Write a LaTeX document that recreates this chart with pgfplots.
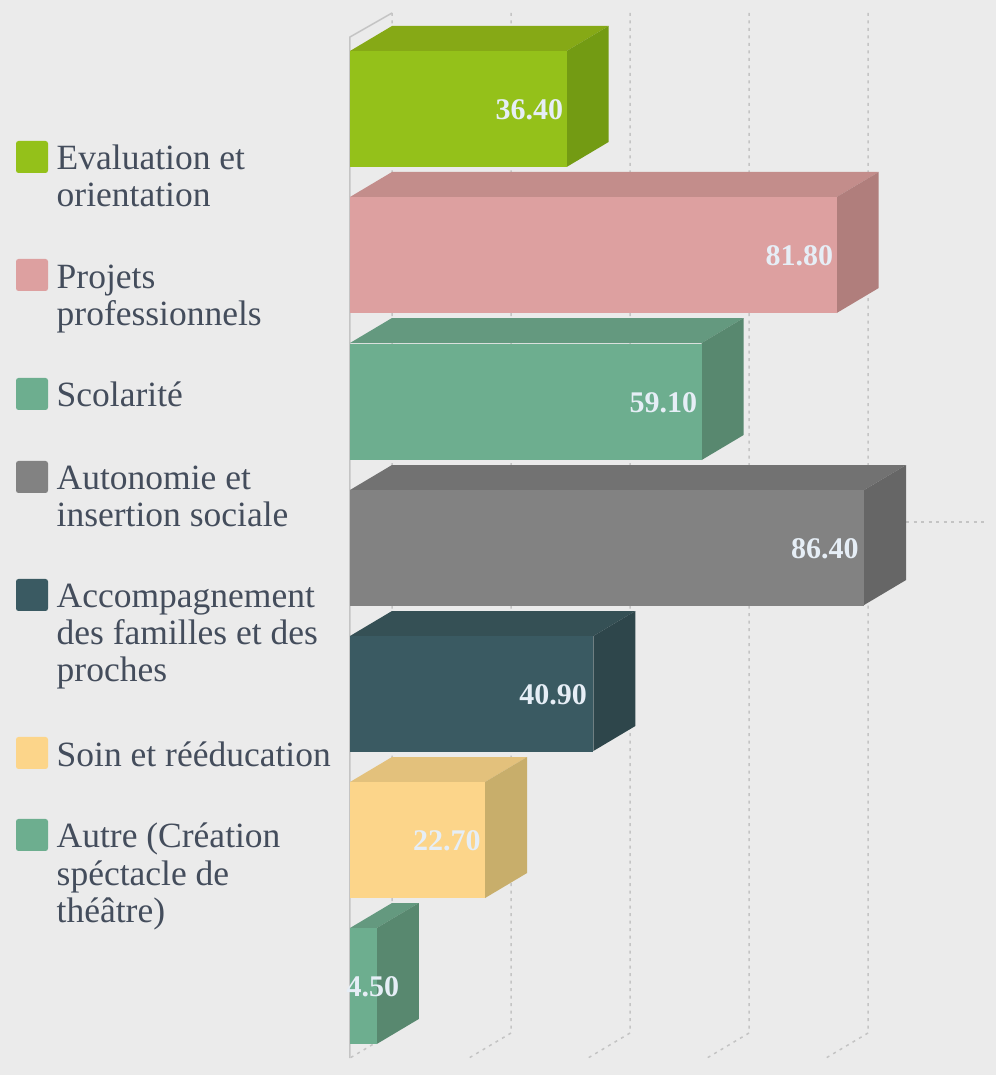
\documentclass[border=0pt]{standalone}
\usepackage{pgfplots}
\pgfplotsset{compat=1.18}
\usepackage{fontspec}
\setmainfont{Liberation Serif}
\definecolor{bg}{HTML}{EBEBEB}
\definecolor{gridc}{HTML}{C4C4C4}
\definecolor{txt}{HTML}{444D5C}
\definecolor{lab}{HTML}{E6EEF6}
\definecolor{ga}{HTML}{94C11A}\definecolor{gb}{HTML}{86A916}\definecolor{gc}{HTML}{739B13}
\definecolor{pa}{HTML}{DDA0A0}\definecolor{pb}{HTML}{C38D8B}\definecolor{pc}{HTML}{B07E7C}
\definecolor{ta}{HTML}{6DAE8F}\definecolor{tb}{HTML}{64997F}\definecolor{tc}{HTML}{58886F}
\definecolor{ka}{HTML}{828282}\definecolor{kb}{HTML}{727272}\definecolor{kc}{HTML}{666666}
\definecolor{da}{HTML}{3A5A62}\definecolor{db}{HTML}{355055}\definecolor{dc}{HTML}{2E464B}
\definecolor{ya}{HTML}{FCD58A}\definecolor{yb}{HTML}{E3C17C}\definecolor{yc}{HTML}{C8AE6B}
\pgfplotsset{
  frontbar/.style={xbar, bar width=116pt, bar shift=0pt, draw=none, fill=#1,
    nodes near coords, point meta=x,
    nodes near coords style={anchor=east, xshift=0pt, yshift=-1pt, text=lab,
      font=\fontsize{30}{30}\selectfont\bfseries,
      /pgf/number format/fixed, /pgf/number format/fixed zerofill,
      /pgf/number format/precision=2, /pgf/number format/assume math mode=true}},
  face/.style={fill=#1, draw=none},
  griddot/.style={gridc, line width=1.5pt, dash pattern=on 3pt off 4.5pt},
}
\begin{document}
\begin{tikzpicture}
\begin{axis}[
  scale only axis, width=996pt, height=1075pt,
  xmin=-58.82, xmax=108.57, ymin=0, ymax=1075, y dir=reverse,
  axis lines=none, ticks=none, clip=true,
]
\fill[bg] (rel axis cs:0,0) rectangle (rel axis cs:1,1);
% wall and floor grid lines
\addplot[griddot] coordinates {(7.06,13) (7.06,1033) (0,1058)};
\addplot[griddot] coordinates {(27.06,13) (27.06,1033) (20,1058)};
\addplot[griddot] coordinates {(47.06,13) (47.06,1033) (40,1058)};
\addplot[griddot] coordinates {(67.06,13) (67.06,1033) (60,1058)};
\addplot[griddot] coordinates {(87.06,13) (87.06,1033) (80,1058)};
\addplot[griddot] coordinates {(93.46,522) (106.5,522)};
\addplot[gridc, line width=1.5pt] coordinates {(7.06,13) (0,37) (0,1058)};
% Evaluation et orientation
\addplot[face=gb] coordinates {(0,51) (7.06,26) (43.46,26) (36.4,51)} -- cycle;
\addplot[face=gc] coordinates {(36.4,51) (43.46,26) (43.46,142) (36.4,167)} -- cycle;
\addplot[frontbar=ga] coordinates {(36.4,109)};
% Projets professionnels
\addplot[face=pb] coordinates {(0,197) (7.06,172) (88.86,172) (81.8,197)} -- cycle;
\addplot[face=pc] coordinates {(81.8,197) (88.86,172) (88.86,288) (81.8,313)} -- cycle;
\addplot[frontbar=pa] coordinates {(81.8,255)};
% Scolarite
\addplot[face=tb] coordinates {(0,343) (7.06,318) (66.16,318) (59.1,343)} -- cycle;
\addplot[face=tc] coordinates {(59.1,343) (66.16,318) (66.16,435) (59.1,460)} -- cycle;
\addplot[frontbar=ta, nodes near coords style={xshift=-1pt}] coordinates {(59.1,401.5)};
% Autonomie
\addplot[face=kb] coordinates {(0,490) (7.06,465) (93.46,465) (86.4,490)} -- cycle;
\addplot[face=kc] coordinates {(86.4,490) (93.46,465) (93.46,580) (86.4,605)} -- cycle;
\addplot[frontbar=ka, nodes near coords style={xshift=-2pt}] coordinates {(86.4,547.5)};
% Accompagnement
\addplot[face=db] coordinates {(0,636) (7.06,611) (47.96,611) (40.9,636)} -- cycle;
\addplot[face=dc] coordinates {(40.9,636) (47.96,611) (47.96,726) (40.9,751)} -- cycle;
\addplot[frontbar=da, nodes near coords style={xshift=-3pt}] coordinates {(40.9,693.5)};
% Soin
\addplot[face=yb] coordinates {(0,782) (7.06,757) (29.76,757) (22.7,782)} -- cycle;
\addplot[face=yc] coordinates {(22.7,782) (29.76,757) (29.76,873) (22.7,898)} -- cycle;
\addplot[frontbar=ya, nodes near coords style={xshift=-1pt}] coordinates {(22.7,840)};
% Autre
\addplot[face=tb] coordinates {(0,928) (7.06,903) (11.56,903) (4.5,928)} -- cycle;
\addplot[face=tc] coordinates {(4.5,928) (11.56,903) (11.56,1019) (4.5,1044)} -- cycle;
\addplot[frontbar=ta, nodes near coords style={xshift=26pt}] coordinates {(4.5,986)};
\end{axis}
\begin{scope}[x=1pt, y=-1pt, yshift=1075pt]
\foreach \y/\c in {141/ga,259/pa,378/ta,461/ka,579/da,737/ya,819/ta}
  \fill[\c, rounded corners=2.5pt] (16,\y) rectangle (48,\y+32);
\tikzset{leg/.style={anchor=base west, inner sep=0pt, text=txt,
  font=\fontsize{35.5}{35.5}\selectfont}}
\node[leg] at (56.5,169.5) {Evaluation et};
\node[leg] at (56.5,206.5) {orientation};
\node[leg] at (56.5,288.5) {Projets};
\node[leg] at (56.5,325.5) {professionnels};
\node[leg] at (56.5,406.5) {Scolarité};
\node[leg] at (56.5,489.5) {Autonomie et};
\node[leg] at (56.5,526.5) {insertion sociale};
\node[leg] at (56.5,607.5) {Accompagnement};
\node[leg] at (56.5,644.5) {des familles et des};
\node[leg] at (56.5,681.5) {proches};
\node[leg] at (56.5,766.5) {Soin et rééducation};
\node[leg] at (56.5,847.5) {Autre (Création};
\node[leg] at (56.5,885.5) {spéctacle de};
\node[leg] at (56.5,922.5) {théâtre)};
\end{scope}
\end{tikzpicture}
\end{document}
